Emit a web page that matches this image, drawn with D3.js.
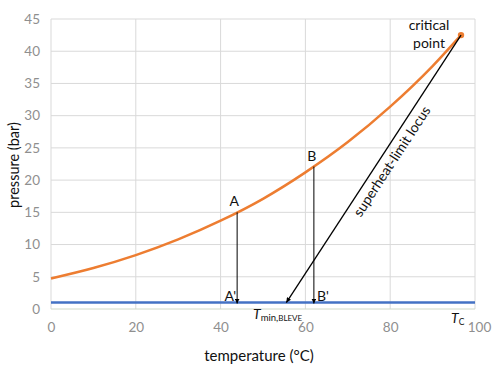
<!DOCTYPE html>
<html>
<head>
<meta charset="utf-8">
<script src="https://cdn.jsdelivr.net/npm/d3@7"></script>
<style>
  html, body { margin: 0; padding: 0; background: #fff; }
  svg { display: block; font-family: Lato, "Open Sans", sans-serif; }
</style>
</head>
<body>
<svg id="chart" width="500" height="375"></svg>
<script>
// ---- data ----
const tempC = [0, 10, 20, 30, 40, 50, 60, 70, 80, 90, 96.7];
const pSat  = [4.74, 6.36, 8.36, 10.8, 13.7, 17.1, 21.2, 25.9, 31.4, 37.7, 42.5];
const atmT = [0, 100];
const atmP = [1.0, 1.0];
const criticalPoint = { T: 96.7, P: 42.5 };
const tMinBleve = 55.5;
const pointA = { T: 43.9, P: 15.0 };
const pointB = { T: 62.0, P: 22.1 };
const xTicks = [0, 20, 40, 60, 80, 100];
const yTicks = [0, 5, 10, 15, 20, 25, 30, 35, 40, 45];

// ---- layout ----
const svg = d3.select("#chart");
const x = d3.scaleLinear().domain([0, 100]).range([51, 475]);
const y = d3.scaleLinear().domain([0, 45]).range([309, 19]);
const gridColor = "#d9d9d9";
const tickColor = "#8f8f8f";

const defs = svg.append("defs");
defs.append("marker")
  .attr("id", "arr").attr("viewBox", "0 0 10 10")
  .attr("refX", 10).attr("refY", 5)
  .attr("markerWidth", 5).attr("markerHeight", 5)
  .attr("markerUnits", "userSpaceOnUse")
  .attr("orient", "auto")
  .append("path").attr("d", "M0,0 L10,5 L0,10 z").attr("fill", "#000");

// grid
const grid = svg.append("g");
grid.selectAll("line.h").data(yTicks.filter(d => d > 0)).join("line")
  .attr("x1", x(0)).attr("x2", x(100))
  .attr("y1", d => y(d)).attr("y2", d => y(d))
  .attr("stroke", gridColor).attr("stroke-width", 1);
grid.selectAll("line.v").data(xTicks).join("line")
  .attr("x1", d => x(d)).attr("x2", d => x(d))
  .attr("y1", y(0)).attr("y2", y(45))
  .attr("stroke", gridColor).attr("stroke-width", 1);
grid.append("line")
  .attr("x1", x(0)).attr("x2", x(100)).attr("y1", y(0)).attr("y2", y(0))
  .attr("stroke", "#cfd8c8").attr("stroke-width", 1);

// axes (labels only)
const xAxis = d3.axisBottom(x).tickValues(xTicks).tickSize(0).tickPadding(13);
const gx = svg.append("g").attr("transform", `translate(0,${y(0)})`).call(xAxis);
gx.select(".domain").remove();
gx.selectAll("text").attr("fill", tickColor).style("font-size", "13.5px").style("font-family", "Lato, sans-serif");
gx.selectAll(".tick").filter(d => d === 100).select("text").attr("dx", 4);

const yAxis = d3.axisLeft(y).tickValues(yTicks).tickSize(0).tickPadding(11);
const gy = svg.append("g").attr("transform", `translate(${x(0)},0)`).call(yAxis);
gy.select(".domain").remove();
gy.selectAll("text").attr("fill", tickColor).style("font-size", "13.5px").style("font-family", "Lato, sans-serif");

// axis titles
svg.append("text").attr("x", 259).attr("y", 361).attr("text-anchor", "middle")
  .style("font-size", "15px").attr("fill", "#111").text("temperature (°C)");
svg.append("text").attr("transform", "translate(19,165) rotate(-90)").attr("text-anchor", "middle")
  .style("font-size", "14.5px").attr("fill", "#111").text("pressure (bar)");

// atmospheric line
svg.append("line")
  .attr("x1", x(atmT[0])).attr("x2", x(atmT[1]))
  .attr("y1", y(atmP[0])).attr("y2", y(atmP[1]))
  .attr("stroke", "#4472c4").attr("stroke-width", 2.5);

// vapour pressure curve
const line = d3.line().x(d => x(d[0])).y(d => y(d[1])).curve(d3.curveMonotoneX);
svg.append("path").datum(tempC.map((t, i) => [t, pSat[i]]))
  .attr("d", line).attr("fill", "none")
  .attr("stroke", "#ed7d31").attr("stroke-width", 2.5);
svg.append("circle").attr("cx", x(criticalPoint.T)).attr("cy", y(criticalPoint.P))
  .attr("r", 3.2).attr("fill", "#ed7d31");

// superheat-limit locus
svg.append("line")
  .attr("x1", x(criticalPoint.T)).attr("y1", y(criticalPoint.P))
  .attr("x2", x(tMinBleve)).attr("y2", y(atmP[0]))
  .attr("stroke", "#000").attr("stroke-width", 1.3)
  .attr("marker-end", "url(#arr)");

// vertical arrows A->A', B->B'
[pointA, pointB].forEach(p => {
  svg.append("line")
    .attr("x1", x(p.T)).attr("x2", x(p.T))
    .attr("y1", y(p.P)).attr("y2", y(atmP[0]) + 1)
    .attr("stroke", "#000").attr("stroke-width", 1)
    .attr("marker-end", "url(#arr)");
});

// labels
const lbl = (tx, ty, s, size, anchor) => svg.append("text").attr("x", tx).attr("y", ty)
  .attr("text-anchor", anchor || "middle").style("font-size", (size || 14) + "px")
  .attr("fill", "#111").text(s);
lbl(x(pointA.T) - 3, y(pointA.P) - 6, "A");
lbl(x(pointB.T) - 2, y(pointB.P) - 6, "B");
lbl(x(pointA.T) - 1, 301, "A'", 14, "end");
lbl(x(pointB.T) + 3, 301, "B'", 14, "start");
lbl(429, 30, "critical");
lbl(429, 48, "point");

// T_min,BLEVE
const tmin = svg.append("text").attr("x", 253).attr("y", 319).attr("fill", "#111");
tmin.append("tspan").style("font-style", "italic").style("font-size", "14px").text("T");
tmin.append("tspan").style("font-size", "9.5px").attr("dy", 2).text("min,");
tmin.append("tspan").style("font-size", "8px").text("BLEVE");
// T_C
const tc = svg.append("text").attr("x", 451).attr("y", 323).attr("fill", "#111");
tc.append("tspan").style("font-style", "italic").style("font-size", "14px").text("T");
tc.append("tspan").style("font-size", "8.5px").attr("dy", 2).text("C");

// rotated locus label
{
  const x0 = x(tMinBleve), y0 = y(atmP[0]);
  const x1 = x(criticalPoint.T), y1 = y(criticalPoint.P);
  const ang = Math.atan2(y1 - y0, x1 - x0) * 180 / Math.PI;
  const len = Math.hypot(x1 - x0, y1 - y0);
  const t = 176 / len;
  const px = x0 + (x1 - x0) * t, py = y0 + (y1 - y0) * t;
  svg.append("text")
    .attr("transform", `translate(${px},${py}) rotate(${ang})`)
    .attr("text-anchor", "middle").attr("dy", 16)
    .style("font-size", "14px").attr("fill", "#111")
    .text("superheat-limit locus");
}
</script>
</body>
</html>
